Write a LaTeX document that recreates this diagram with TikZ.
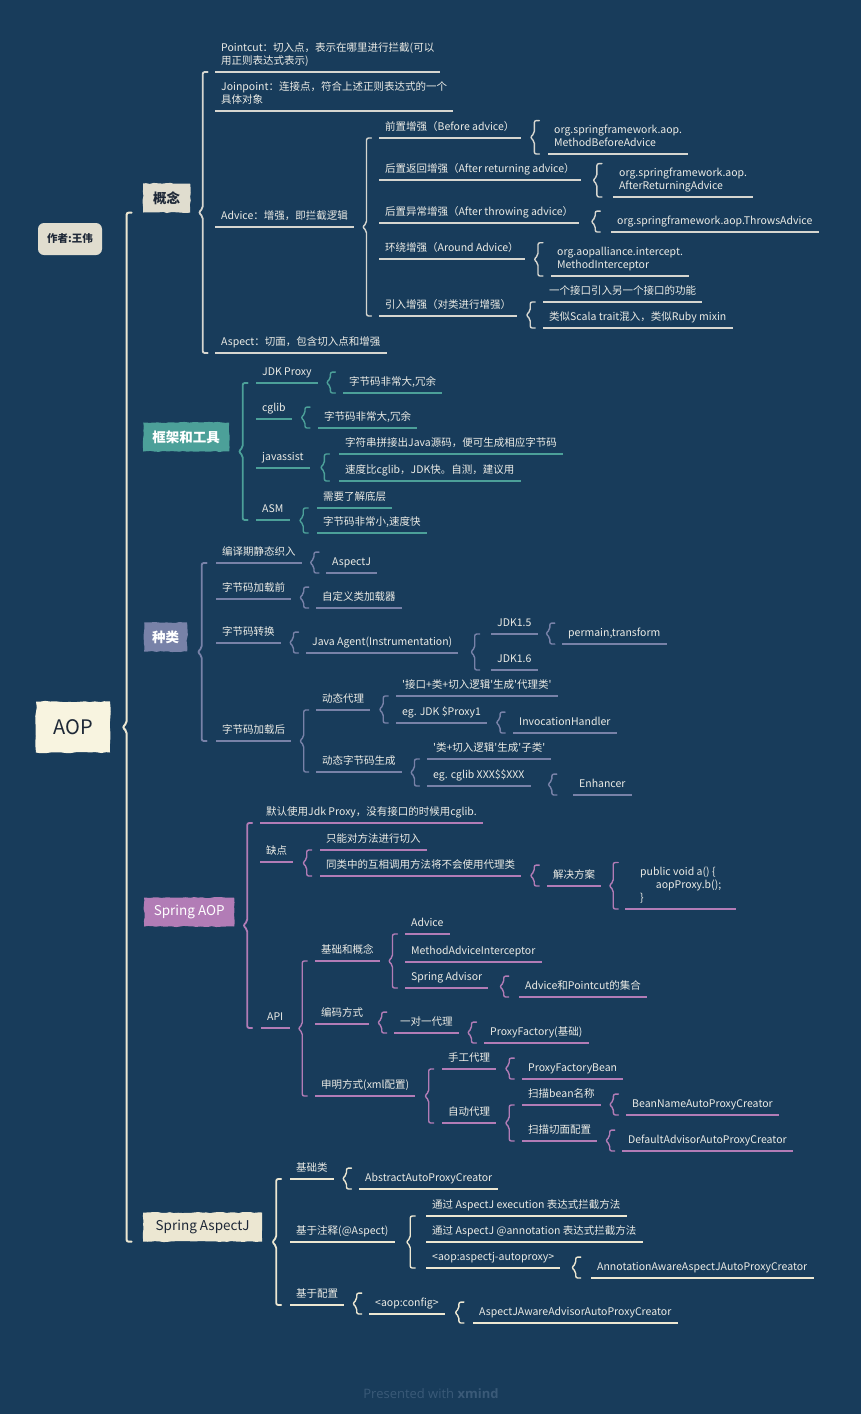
\documentclass[tikz,border=0pt]{standalone}
\usepackage{fontspec}
\setmainfont{Noto Sans CJK SC}[Ligatures=TeXOff]
\newfontfamily\footfont{Open Sans}
\usetikzlibrary{calc,decorations.pathmorphing}
\definecolor{night}{RGB}{24,60,91}
\definecolor{paper}{RGB}{248,244,224}
\definecolor{chalk}{RGB}{236,236,230}
\definecolor{stone}{RGB}{224,221,207}
\definecolor{pale}{RGB}{214,214,208}
\definecolor{sea}{RGB}{76,160,153}
\definecolor{slate}{RGB}{120,130,168}
\definecolor{mauve}{RGB}{178,124,182}
\definecolor{cream}{RGB}{236,231,210}
\definecolor{ink}{RGB}{30,40,55}
\definecolor{foot}{RGB}{58,90,120}
\tikzset{
  leaf/.style={anchor=south west,inner xsep=6pt,inner ysep=4.5pt,text=chalk,align=left,
    font=\fontsize{10.5}{13}\selectfont,text height=9pt,text depth=2.5pt,
    append after command={(\tikzlastnode.south west) edge[draw=#1,line width=1.5pt] (\tikzlastnode.south east)}},
  leaf/.default=pale,
  multi/.style={text height={}},
  topic/.style={anchor=west,fill=#1,minimum height=29pt,inner xsep=0pt,text=white,
    font=\fontsize{13.5}{16}\selectfont,
    decorate,decoration={random steps,segment length=4pt,amplitude=.6pt}},
  root/.style={fill=paper,text=ink,minimum width=74pt,minimum height=51pt,
    font=\fontsize{20}{24}\selectfont,
    decorate,decoration={random steps,segment length=5pt,amplitude=.8pt}},
  author/.style={fill=stone,text=ink,rounded corners=6pt,minimum width=64pt,minimum height=32pt,
    font=\fontsize{10.5}{13}\selectfont\bfseries},
  curl/.style={line width=1.4pt,rounded corners=2pt,line cap=round,draw=#1},
}
% brace from a parent to its children
\newcommand\curlfull[5]{%
  \coordinate (brx) at ($(#2.east)!.5!(#3.west)$);
  \coordinate (brtop) at (brx |- #4);
  \coordinate (brbot) at (brx |- #5);
  \coordinate (brmid) at ($(brtop)!.5!(brbot)$);
  \draw[curl=#1] ([xshift=5pt]brtop) -- (brtop) -- ([yshift=4pt]brmid) -- ([xshift=-4pt]brmid)
    -- ([yshift=-4pt]brmid) -- (brbot) -- ([xshift=5pt]brbot);}
\newcommand\curlto[4]{\curlfull{#1}{#2}{#3}{#3.south}{#4.south}}
\newcommand\curlone[3]{\curlfull{#1}{#2}{#3}{#3.north}{#3.south}}

\begin{document}
\begin{tikzpicture}[x=1pt,y=-1pt]
  \fill[night] (0,0) rectangle (861,1414);
  \useasboundingbox (0,0) rectangle (861,1414);

  \node[root] (aop) at (73,727) {AOP};
  \node[author] (au) at (70,239) {作者:王伟};

  \node[topic=stone,text=ink,minimum width=47pt] (gn) at (143,198) {\bfseries 概念};
  \node[topic=sea,minimum width=86pt] (fw) at (143,437) {\bfseries 框架和工具};
  \node[topic=slate,minimum width=43pt] (ty) at (144,637) {\bfseries 种类};
  \node[topic=mauve,minimum width=90pt] (sp) at (144,912) {Spring AOP};
  \node[topic=cream,text=ink,minimum width=119pt] (sa) at (143,1227) {Spring AspectJ};
  \curlto{cream,line width=2pt}{aop}{gn}{sa}

  % concept
  \node[leaf,multi] (pc) at (215,72) {Pointcut：切入点，表示在哪里进行拦截(可以\\用正则表达式表示)};
  \node[leaf,multi] (jp) at (215,111) {Joinpoint：连接点，符合上述正则表达式的一个\\具体对象};
  \node[leaf] (adv) at (215,227) {Advice：增强，即拦截逻辑};
  \node[leaf] (asp) at (215,353) {Aspect：切面，包含切入点和增强};
  \node[leaf] (bef) at (379,138) {前置增强（Before advice）};
  \node[leaf,multi] (befc) at (548,154) {org.springframework.aop.\\MethodBeforeAdvice};
  \node[leaf] (ret) at (379,180) {后置返回增强（After returning advice）};
  \node[leaf,multi] (retc) at (613,197) {org.springframework.aop.\\AfterReturningAdvice};
  \node[leaf] (thr) at (379,223) {后置异常增强（After throwing advice）};
  \node[leaf] (thrc) at (611,232) {org.springframework.aop.ThrowsAdvice};
  \node[leaf] (aro) at (379,259) {环绕增强（Around Advice）};
  \node[leaf,multi] (aroc) at (551,276) {org.aopalliance.intercept.\\MethodInterceptor};
  \node[leaf] (intr) at (379,316) {引入增强（对类进行增强）};
  \node[leaf] (intra) at (543,302) {一个接口引入另一个接口的功能};
  \node[leaf] (intrb) at (543,328) {类似Scala trait混入，类似Ruby mixin};
  \curlto{pale,line width=1.8pt}{gn}{pc}{asp}
  \curlto{pale}{adv}{bef}{intr}
  \curlone{pale}{bef}{befc}
  \curlone{pale}{ret}{retc}
  \curlone{pale}{thr}{thrc}
  \curlone{pale}{aro}{aroc}
  \curlto{pale}{intr}{intra}{intrb}

  % frameworks
  \node[leaf=sea] (jdk) at (256,383) {JDK Proxy};
  \node[leaf=sea] (jdkc) at (343,393) {字节码非常大,冗余};
  \node[leaf=sea] (cgl) at (256,419) {cglib};
  \node[leaf=sea] (cglc) at (318,428) {字节码非常大,冗余};
  \node[leaf=sea] (jav) at (256,468) {javassist};
  \node[leaf=sea] (java) at (339,454) {字符串拼接出Java源码，便可生成相应字节码};
  \node[leaf=sea] (javb) at (339,481) {速度比cglib，JDK快。自测，建议用};
  \node[leaf=sea] (asm) at (256,520) {ASM};
  \node[leaf=sea] (asma) at (317,508) {需要了解底层};
  \node[leaf=sea] (asmb) at (317,533) {字节码非常小,速度快};
  \curlto{sea,line width=1.8pt}{fw}{jdk}{asm}
  \curlone{sea}{jdk}{jdkc}
  \curlone{sea}{cgl}{cglc}
  \curlto{sea}{jav}{java}{javb}
  \curlto{sea}{asm}{asma}{asmb}

  % kinds
  \node[leaf=slate] (cmp) at (216,563) {编译期静态织入};
  \node[leaf=slate] (cmpc) at (326,573) {AspectJ};
  \node[leaf=slate] (bl) at (216,599) {字节码加载前};
  \node[leaf=slate] (blc) at (316,608) {自定义类加载器};
  \node[leaf=slate] (tr) at (216,643) {字节码转换};
  \node[leaf=slate] (agent) at (306,653) {Java Agent(Instrumentation)};
  \node[leaf=slate] (j15) at (491,634) {JDK1.5};
  \node[leaf=slate] (j15c) at (562,644) {permain,transform};
  \node[leaf=slate] (j16) at (491,670) {JDK1.6};
  \node[leaf=slate] (al) at (216,741) {字节码加载后};
  \node[leaf=slate] (dp) at (316,710) {动态代理};
  \node[leaf=slate] (dpa) at (396,696) {'接口+类+切入逻辑'生成'代理类'};
  \node[leaf=slate] (dpb) at (396,723) {eg. JDK \$Proxy1};
  \node[leaf=slate] (dpbc) at (513,733) {InvocationHandler};
  \node[leaf=slate] (db) at (316,772) {动态字节码生成};
  \node[leaf=slate] (dba) at (427,759) {'类+切入逻辑'生成'子类'};
  \node[leaf=slate] (dbb) at (427,786) {eg. cglib XXX\$\$XXX};
  \node[leaf=slate] (dbbc) at (573,795) {Enhancer};
  \curlto{slate,line width=1.8pt}{ty}{cmp}{al}
  \curlone{slate}{cmp}{cmpc}
  \curlone{slate}{bl}{blc}
  \curlone{slate}{tr}{agent}
  \curlto{slate}{agent}{j15}{j16}
  \curlone{slate}{j15}{j15c}
  \curlto{slate}{al}{dp}{db}
  \curlto{slate}{dp}{dpa}{dpb}
  \curlone{slate}{dpb}{dpbc}
  \curlto{slate}{db}{dba}{dbb}
  \curlone{slate}{dbb}{dbbc}

  % spring aop
  \node[leaf=mauve] (def) at (260,823) {默认使用Jdk Proxy，没有接口的时候用cglib.};
  \node[leaf=mauve] (cons) at (260,862) {缺点};
  \node[leaf=mauve] (consa) at (320,850) {只能对方法进行切入};
  \node[leaf=mauve] (consb) at (320,876) {同类中的互相调用方法将不会使用代理类};
  \node[leaf=mauve] (sol) at (547,886) {解决方案};
  \node[leaf=mauve,multi,inner xsep=15pt] (code) at (625,909) {public void a() \{\\\hspace*{1.5em}aopProxy.b();\\\}};
  \node[leaf=mauve] (api) at (261,1028) {API};
  \node[leaf=mauve] (bas) at (315,961) {基础和概念};
  \node[leaf=mauve] (basa) at (405,934) {Advice};
  \node[leaf=mauve] (basb) at (405,962) {MethodAdviceInterceptor};
  \node[leaf=mauve] (basc) at (405,988) {Spring Advisor};
  \node[leaf=mauve] (bascc) at (519,997) {Advice和Pointcut的集合};
  \node[leaf=mauve] (enc) at (315,1024) {编码方式};
  \node[leaf=mauve] (enca) at (394,1033) {一对一代理};
  \node[leaf=mauve] (encac) at (484,1043) {ProxyFactory(基础)};
  \node[leaf=mauve] (dec) at (315,1096) {申明方式(xml配置)};
  \node[leaf=mauve] (man) at (442,1069) {手工代理};
  \node[leaf=mauve] (manc) at (522,1079) {ProxyFactoryBean};
  \node[leaf=mauve] (aut) at (442,1123) {自动代理};
  \node[leaf=mauve] (auta) at (522,1105) {扫描bean名称};
  \node[leaf=mauve] (autac) at (626,1115) {BeanNameAutoProxyCreator};
  \node[leaf=mauve] (autb) at (522,1141) {扫描切面配置};
  \node[leaf=mauve] (autbc) at (622,1151) {DefaultAdvisorAutoProxyCreator};
  \curlto{mauve,line width=1.8pt}{sp}{def}{api}
  \curlto{mauve}{cons}{consa}{consb}
  \curlone{mauve}{consb}{sol}
  \curlone{mauve}{sol}{code}
  \curlto{mauve}{api}{bas}{dec}
  \curlto{mauve}{bas}{basa}{basc}
  \curlone{mauve}{basc}{bascc}
  \curlone{mauve}{enc}{enca}
  \curlone{mauve}{enca}{encac}
  \curlto{mauve}{dec}{man}{aut}
  \curlone{mauve}{man}{manc}
  \curlto{mauve}{aut}{auta}{autb}
  \curlone{mauve}{auta}{autac}
  \curlone{mauve}{autb}{autbc}

  % spring aspectj
  \node[leaf=cream] (base) at (290,1179) {基础类};
  \node[leaf=cream] (basec) at (359,1189) {AbstractAutoProxyCreator};
  \node[leaf=cream] (ann) at (290,1242) {基于注释(@Aspect)};
  \node[leaf=cream] (anna) at (426,1216) {通过 AspectJ execution 表达式拦截方法};
  \node[leaf=cream] (annb) at (426,1242) {通过 AspectJ @annotation 表达式拦截方法};
  \node[leaf=cream] (annc) at (426,1268) {<aop:aspectj-autoproxy>};
  \node[leaf=cream] (anncc) at (591,1278) {AnnotationAwareAspectJAutoProxyCreator};
  \node[leaf=cream] (cfg) at (290,1305) {基于配置};
  \node[leaf=cream] (cfga) at (369,1314) {<aop:config>};
  \node[leaf=cream] (cfgac) at (473,1323) {AspectJAwareAdvisorAutoProxyCreator};
  \curlto{cream,line width=1.8pt}{sa}{base}{cfg}
  \curlone{cream}{base}{basec}
  \curlto{cream}{ann}{anna}{annc}
  \curlone{cream}{annc}{anncc}
  \curlone{cream}{cfg}{cfga}
  \curlone{cream}{cfga}{cfgac}

  \node[font=\footfont\fontsize{13}{15}\selectfont,text=foot] (ft) at (431,1394) {Presented with \textbf{xmind}};
\end{tikzpicture}
\end{document}
